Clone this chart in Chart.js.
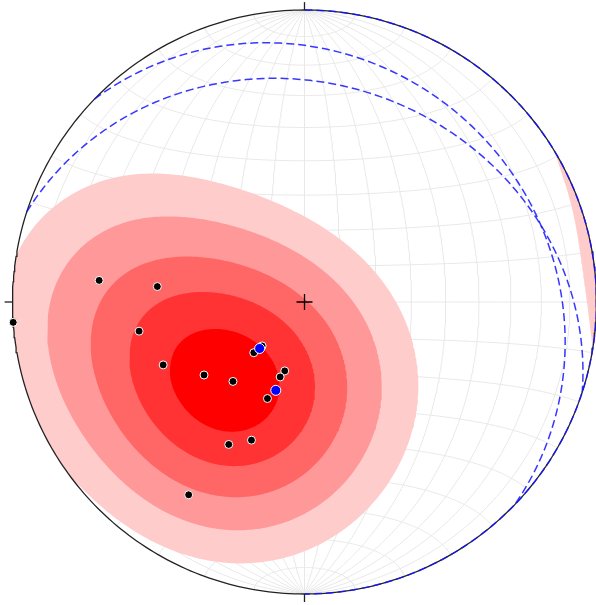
<!DOCTYPE html>
<html>
<head>
<meta charset="utf-8">
<script src="https://cdn.jsdelivr.net/npm/chart.js@4.4.1/dist/chart.umd.min.js"></script>
<style>
  html, body { margin: 0; padding: 0; background: #ffffff; }
  #wrap { width: 596px; height: 605px; }
</style>
</head>
<body>
<div id="wrap"><canvas id="c" width="596" height="605"></canvas></div>
<script>
// ---------------- data (lower hemisphere, degrees) ----------------
const poleTrends   = [266, 276, 276, 260, 246, 234, 222, 225, 224, 196, 198, 201, 201, 208, 211];
const polePlunges  = [  0,  30,  48,  42,  46,  55,  60,  70,  73,  70,  68,  61,  48,  44,  24];
const bluePoleTrends  = [224, 198];
const bluePolePlunges = [ 72,  64];
const planeStrikes = [0, 314, 288];
const planeDips    = [0,  18,  26];
const gridStepDeg  = 10;
const contourLevels = [1.6, 3.2, 5.2, 7.2, 9.1];
const tickAzimuths = [0, 90, 180, 270];

// ---------------- styles ----------------
const contourColors = ['#ffcccc', '#ff9999', '#ff6666', '#ff3333', '#ff0000'];

// ---------------- math ----------------
const d2r = Math.PI / 180;
function lineVec(trend, plunge) {
  const t = trend * d2r, p = plunge * d2r;
  return [Math.cos(p) * Math.sin(t), Math.cos(p) * Math.cos(t), Math.sin(p)]; // E, N, Down
}
function project(v) {           // Lambert equal-area, lower hemisphere, unit primitive
  let [e, n, d] = v;
  if (d < 0) { e = -e; n = -n; d = -d; }
  const k = 1 / Math.sqrt(1 + d);
  return { x: e * k, y: n * k };
}
function unproject(x, y) {
  const r2 = x * x + y * y;
  const d = Math.max(0, 1 - r2);
  const k = Math.sqrt(1 + d);
  return [x * k, y * k, d];
}
function planeCurve(strike, dip) {
  const s = strike * d2r, dd = dip * d2r;
  const S = [Math.sin(s), Math.cos(s), 0];
  const D = [Math.cos(dd) * Math.sin(s + Math.PI / 2), Math.cos(dd) * Math.cos(s + Math.PI / 2), Math.sin(dd)];
  const pts = [];
  for (let t = 0; t <= 180; t += 1) {
    const c = Math.cos(t * d2r), sn = Math.sin(t * d2r);
    pts.push(project([c * S[0] + sn * D[0], c * S[1] + sn * D[1], c * S[2] + sn * D[2]]));
  }
  return pts;
}

// ---------------- density of the poles (exponential Kamb, sigma = 3) ----------------
const densityPoles = poleTrends.map((t, i) => lineVec(t, polePlunges[i]));
const nPts = densityPoles.length;
const sigma = 3;
const fK = 2 * (1 + nPts / (sigma * sigma));
const units = Math.sqrt(nPts * (fK / 2 - 1) / (fK * fK));
function densityVec(v) {
  let s = 0;
  for (const p of densityPoles) {
    const c = Math.abs(v[0] * p[0] + v[1] * p[1] + v[2] * p[2]);
    s += Math.exp(fK * (c - 1));
  }
  return Math.max(0, (s - 0.5) / units);
}
function densityXY(x, y) { return densityVec(unproject(x, y)); }

let peak = { x: 0, y: 0, v: -1 };
for (let i = -100; i <= 100; i++) for (let j = -100; j <= 100; j++) {
  const x = i / 100, y = j / 100;
  if (x * x + y * y > 1) continue;
  const v = densityXY(x, y);
  if (v > peak.v) peak = { x, y, v };
}
let edgeBest = { a: 0, v: -1 };
for (let a = 0; a < 360; a += 0.5) {
  const v = densityXY(Math.sin(a * d2r), Math.cos(a * d2r));
  if (v > edgeBest.v) edgeBest = { a, v };
}
const ea1 = edgeBest.a, ea2 = (edgeBest.a + 180) % 360;
const c1 = { x: Math.sin(ea1 * d2r), y: Math.cos(ea1 * d2r) };
const c2 = { x: Math.sin(ea2 * d2r), y: Math.cos(ea2 * d2r) };
const far = ((c1.x - peak.x) ** 2 + (c1.y - peak.y) ** 2) > ((c2.x - peak.x) ** 2 + (c2.y - peak.y) ** 2) ? c1 : c2;
const seed2 = { x: far.x * 0.9995, y: far.y * 0.9995 };

function contourPolygon(seed, level) {
  const pts = [];
  for (let a = 0; a < 360; a += 1) {
    const dx = Math.cos(a * d2r), dy = Math.sin(a * d2r);
    const b = seed.x * dx + seed.y * dy;
    const c = seed.x * seed.x + seed.y * seed.y - 1;
    const tMax = Math.max(0, -b + Math.sqrt(Math.max(0, b * b - c)));
    let found = tMax;
    const step = 0.004;
    for (let t = step; t < tMax; t += step) {
      if (densityXY(seed.x + t * dx, seed.y + t * dy) < level) {
        let lo = t - step, hi = t;
        for (let k = 0; k < 18; k++) {
          const m = (lo + hi) / 2;
          if (densityXY(seed.x + m * dx, seed.y + m * dy) < level) hi = m; else lo = m;
        }
        found = (lo + hi) / 2;
        break;
      }
    }
    pts.push({ x: seed.x + found * dx, y: seed.y + found * dy });
  }
  pts.push(pts[0]);
  return pts;
}

// ---------------- datasets ----------------
const datasets = [];
const gridStyle = { borderColor: '#e8e8e8', borderWidth: 1, showLine: true, pointRadius: 0, fill: false, tension: 0, order: 100 };
for (let lam = -90 + gridStepDeg; lam < 90; lam += gridStepDeg) {
  const pts = [];
  for (let ph = -90; ph <= 90; ph += 1) { const l = lam * d2r, p = ph * d2r; pts.push(project([Math.cos(p) * Math.sin(l), Math.sin(p), Math.cos(p) * Math.cos(l)])); }
  datasets.push(Object.assign({ data: pts }, gridStyle));
}
for (let ph = -90 + gridStepDeg; ph < 90; ph += gridStepDeg) {
  const pts = [];
  for (let lam = -90; lam <= 90; lam += 1) { const l = lam * d2r, p = ph * d2r; pts.push(project([Math.cos(p) * Math.sin(l), Math.sin(p), Math.cos(p) * Math.cos(l)])); }
  datasets.push(Object.assign({ data: pts }, gridStyle));
}
contourLevels.forEach((lev, i) => {
  [peak, seed2].forEach(sd => {
    if (densityXY(sd.x, sd.y) < lev) return;
    datasets.push({
      data: contourPolygon(sd, lev), showLine: true, pointRadius: 0, tension: 0,
      borderWidth: 0, borderColor: contourColors[i], backgroundColor: contourColors[i],
      fill: 'shape', order: 90 - i
    });
  });
});
const prim = [];
for (let a = 0; a <= 360; a += 1) prim.push({ x: Math.sin(a * d2r), y: Math.cos(a * d2r) });
datasets.push({ data: prim, showLine: true, pointRadius: 0, borderColor: '#222222', borderWidth: 1.3, fill: false, order: 30 });
tickAzimuths.forEach(a => {
  const sx = Math.sin(a * d2r), sy = Math.cos(a * d2r);
  datasets.push({ data: [{ x: sx, y: sy }, { x: sx * 1.027, y: sy * 1.027 }], showLine: true, pointRadius: 0, borderColor: '#222222', borderWidth: 1.3, fill: false, order: 30 });
});
planeStrikes.forEach((s, i) => {
  datasets.push({ data: planeCurve(s, planeDips[i]), showLine: true, pointRadius: 0, borderColor: 'rgba(20,20,255,0.85)', borderWidth: 1.5, borderDash: [8, 4], fill: false, tension: 0, order: 20 });
});
datasets.push({
  data: poleTrends.map((t, i) => project(lineVec(t, polePlunges[i]))),
  showLine: false, pointRadius: 4, pointBackgroundColor: '#000000', pointBorderColor: '#ffffff', pointBorderWidth: 1, order: 10
});
datasets.push({
  data: bluePoleTrends.map((t, i) => project(lineVec(t, bluePolePlunges[i]))),
  showLine: false, pointRadius: 5, pointBackgroundColor: '#0000ff', pointBorderColor: '#ffffff', pointBorderWidth: 1, order: 5
});
datasets.push({ data: [{ x: 0, y: 0 }], showLine: false, pointStyle: 'cross', pointRadius: 8, pointBorderColor: '#000000', pointBorderWidth: 1.3, order: 1 });

// pixel mapping: centre (304.5, 302), radius 292 px on a 596 x 605 canvas
const R = 292, CX = 304.5, CY = 302, W = 596, H = 605;
new Chart(document.getElementById('c'), {
  type: 'scatter',
  data: { datasets },
  options: {
    responsive: false, animation: false, events: [],
    layout: { padding: 0, autoPadding: false },
    plugins: { legend: { display: false }, tooltip: { enabled: false } },
    scales: {
      x: { type: 'linear', display: false, min: (0 - CX) / R, max: (W - CX) / R },
      y: { type: 'linear', display: false, min: -(H - CY) / R, max: CY / R }
    }
  }
});
</script>
</body>
</html>
